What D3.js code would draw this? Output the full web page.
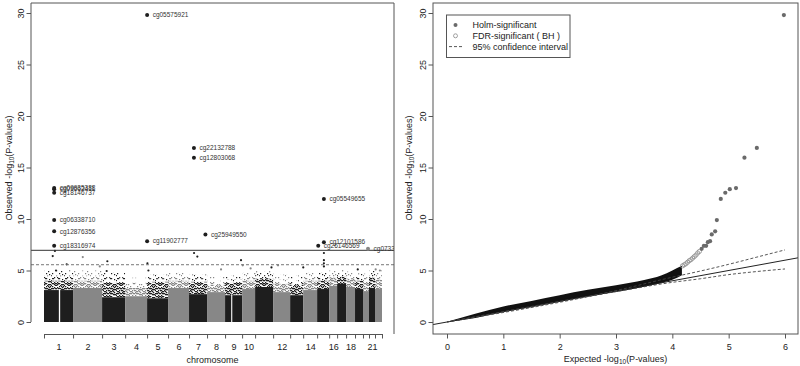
<!DOCTYPE html>
<html>
<head>
 <meta charset="UTF-8">
 <title>EWAS Manhattan and QQ plot</title>
 <script src="https://d3js.org/d3.v7.min.js"></script>
 <style>
  body { margin: 0; background: #fff; }
  text { font-family: "Liberation Sans", Arial, sans-serif; fill: #222; }
 </style>
</head>
<body>
<script type="text/javascript">
// ---- data ----
var chrNames  = ["1","2","3","4","5","6","7","8","9","10","11","12","13","14","15","16","17","18","19","20","21","22"];
var chrLabels = ["1","2","3","4","5","6","7","8","9","10","","12","","14","","16","","18","","","21",""];
// span of probes per chromosome (Mb)
var chrSpan   = [266,266,211,201,192,192,165,165,156,119,165,156,119,128,110,73,82,82,73,55,55,64];
// top of the solid cloud, the dense fringe and the sparse fringe (-log10 p)
var chrCore   = [3.1,3.3,2.4,2.5,2.3,3.3,2.7,2.9,2.6,3.2,3.4,2.9,2.6,3.1,3.2,3.5,3.7,3.4,3.2,3.0,3.3,3.2];
var chrDense  = [4.0,4.0,3.8,3.3,3.9,4.0,3.9,3.6,3.8,4.0,4.2,3.7,3.6,4.0,4.0,4.3,4.4,4.2,4.0,3.9,4.3,4.1];
var chrSparse = [5.0,5.0,4.8,4.3,4.6,4.8,4.6,4.4,4.5,4.8,4.9,4.6,4.5,4.8,4.8,5.0,5.0,4.9,4.7,4.7,5.2,5.0];
// centromere gaps (chromosome, start Mb, end Mb)
var gapChr   = [1, 9];
var gapStart = [136, 56];
var gapEnd   = [148, 66];

// labelled hits
var hitNames = ["cg05575921","cg22132788","cg12803068","cg09935388","cg09662411","cg18146737","cg05549655",
                "cg06338710","cg12876356","cg25949550","cg11902777","cg12101586","cg18316974","cg26146569","cg07339236"];
var hitChr   = [5,7,7,1,1,1,15,1,1,7,5,15,1,15,20];
var hitPos   = [0.4,45,45,93,93,93,62,93,93,150,0.4,62,93,10,46];
var hitLogP  = [29.8,16.9,15.95,13.0,12.9,12.55,11.95,9.9,8.8,8.5,7.85,7.75,7.4,7.4,7.1];

// isolated points above the cloud
var outChr  = [1,1,1,1,2,2,3,3,5,5,7,7,8,9,10,10,11,12,13,15,15,15,15,19,22,22];
var outPos  = [80,100,208,110,89,245,48,42,3,12,46,76,128,146,6,78,150,45,120,62,62,62,62,25,6,45];
var outLogP = [6.4,6.9,5.6,5.0,6.3,5.4,5.9,4.95,5.7,5.0,6.7,6.35,5.1,6.0,5.5,5.2,5.3,5.5,5.3,6.7,6.0,5.7,5.4,5.1,5.1,5.0];

var bonferroni = 6.96;
var fdrLine = 5.56;
var yTicks = [0,5,10,15,20,25,30];

// QQ plot
var qqExp  = [0,0.5,1,1.5,2,2.5,3,3.5,3.8,4,4.17];
var qqLow  = [0,0.4,1.0,1.45,2.0,2.48,2.92,3.42,3.79,4.1,4.55];
var qqHigh = [0.03,0.8,1.5,2.05,2.6,3.12,3.58,4.08,4.51,5.0,5.45];
var fdrExp = [4.18,4.21,4.24,4.27,4.30,4.33,4.36,4.39,4.42,4.45,4.48];
var fdrObs = [5.45,5.55,5.65,5.8,5.95,6.05,6.2,6.35,6.5,6.7,6.85];
var holmExp = [5.98,5.50,5.28,5.13,5.02,4.94,4.86,4.79,4.76,4.70,4.67,4.63,4.60,4.56,4.52];
var ciExp   = [0,3,4,4.5,5,5.5,6];
var ciUpper = [0,3.05,4.35,4.95,5.6,6.3,7.0];
var ciLower = [0,2.95,3.85,4.2,4.6,4.9,5.15];
var qqXTicks = [0,1,2,3,4,5,6];
var legendLabels = ["Holm-significant","FDR-significant ( BH )","95% confidence interval"];

// ---- drawing ----
var width = 800, height = 366;
var black = "#1e1e1e", gray = "#878787";
var svg = d3.select('body').append('svg')
      .attr('width', width)
      .attr('height', height);

// stipple textures for the fringe of the point cloud
var defs = svg.append('defs');
function makePattern(id, color, n, dot) {
  var tile = 13;
  var p = defs.append('pattern').attr('id', id)
      .attr('patternUnits', 'userSpaceOnUse')
      .attr('width', tile).attr('height', tile);
  for (var k = 0; k < n; k++) {
    p.append('rect')
      .attr('x', (k * 5) % tile)
      .attr('y', (k * k * 3 + k + Math.floor(k / tile) * 5) % tile)
      .attr('width', dot).attr('height', dot).attr('fill', color);
  }
}
makePattern('denseB', black, 60, 1.3);
makePattern('denseG', gray, 60, 1.3);
makePattern('midB', black, 20, 1.2);
makePattern('midG', gray, 20, 1.2);
makePattern('topB', black, 8, 1.2);
makePattern('topG', gray, 8, 1.2);

defs.append('clipPath').attr('id', 'clipL').append('rect')
    .attr('x', 31).attr('y', 3).attr('width', 363).attr('height', 331);
defs.append('clipPath').attr('id', 'clipR').append('rect')
    .attr('x', 433).attr('y', 3).attr('width', 365).attr('height', 331);

// ===== Manhattan =====
var chrStart = [];
var acc = 0;
chrSpan.forEach(function (s) { chrStart.push(acc); acc += s; });
var xM = d3.scaleLinear().domain([0, acc]).range([44, 382]);
var yM = d3.scaleLinear().domain([0, 30]).range([322, 13]);
function gx(chr, pos) { return xM(chrStart[chr - 1] + pos); }
function chrColor(chr) { return (chr % 2 === 1) ? black : gray; }

var chrs = chrNames.map(function (n, i) {
  return {i: i, start: chrStart[i], end: chrStart[i] + chrSpan[i],
          core: chrCore[i], dense: chrDense[i], sparse: chrSparse[i],
          mid: (chrDense[i] + chrSparse[i]) / 2};
});

var left = svg.append('g').attr('clip-path', 'url(#clipL)');
function layer(lo, hi, fillB, fillG) {
  left.append('g').selectAll('rect').data(chrs).enter().append('rect')
    .attr('x', function (d) { return xM(d.start); })
    .attr('width', function (d) { return xM(d.end) - xM(d.start); })
    .attr('y', function (d) { return yM(d[hi]); })
    .attr('height', function (d) { return yM(lo === 0 ? 0 : d[lo]) - yM(d[hi]); })
    .attr('fill', function (d) { return d.i % 2 === 0 ? fillB : fillG; });
}
layer('mid', 'sparse', 'url(#topB)', 'url(#topG)');
layer('dense', 'mid', 'url(#midB)', 'url(#midG)');
layer('core', 'dense', 'url(#denseB)', 'url(#denseG)');
layer(0, 'core', black, gray);

left.selectAll('rect.gap').data(gapChr).enter().append('rect')
    .attr('x', function (d, i) { return gx(d, gapStart[i]); })
    .attr('width', function (d, i) { return gx(d, gapEnd[i]) - gx(d, gapStart[i]); })
    .attr('y', function (d) { return yM(chrCore[d - 1]) - 1; })
    .attr('height', function (d) { return yM(0) - yM(chrCore[d - 1]) + 2; })
    .attr('fill', '#fff');

left.selectAll('circle.out').data(outChr).enter().append('circle')
    .attr('cx', function (d, i) { return gx(d, outPos[i]); })
    .attr('cy', function (d, i) { return yM(outLogP[i]); })
    .attr('r', 1.1)
    .attr('fill', function (d) { return chrColor(d); });

left.append('line')
    .attr('x1', 31).attr('x2', 394)
    .attr('y1', yM(bonferroni)).attr('y2', yM(bonferroni))
    .attr('stroke', '#333').attr('stroke-width', 1);
left.append('line')
    .attr('x1', 31).attr('x2', 394)
    .attr('y1', yM(fdrLine)).attr('y2', yM(fdrLine))
    .attr('stroke', '#777').attr('stroke-width', 1).attr('stroke-dasharray', '3,2');

left.selectAll('circle.hit').data(hitNames).enter().append('circle')
    .attr('cx', function (d, i) { return gx(hitChr[i], hitPos[i]); })
    .attr('cy', function (d, i) { return yM(hitLogP[i]); })
    .attr('r', 2)
    .attr('fill', function (d, i) { return chrColor(hitChr[i]); });
left.selectAll('text.hit').data(hitNames).enter().append('text')
    .attr('x', function (d, i) { return gx(hitChr[i], hitPos[i]) + 5.5; })
    .attr('y', function (d, i) { return yM(hitLogP[i]) + 2.3; })
    .style('font-size', '6.5px')
    .style('fill', '#333')
    .text(function (d) { return d; });

// frame (left, top, right)
svg.append('path')
    .attr('d', 'M31,322V3H394V334')
    .attr('fill', 'none').attr('stroke', '#555');

var fontStack = '"Liberation Sans", Arial, sans-serif';

// y axis
var yAxL = svg.append('g').attr('transform', 'translate(31,0)')
    .call(d3.axisLeft(yM).tickValues(yTicks).tickSize(4.5).tickSizeOuter(0));
yAxL.select('.domain').remove();
yAxL.selectAll('line').attr('stroke', '#555');
yAxL.selectAll('text')
    .attr('x', null).attr('dy', null)
    .attr('transform', 'translate(-7.5,0) rotate(-90)')
    .attr('text-anchor', 'middle')
    .style('font-size', '9px').style('fill', '#222').style('font-family', fontStack);

// x axis: boundary ticks + centred labels
var bounds = chrStart.concat([acc]);
var xAxL = svg.append('g').attr('transform', 'translate(0,334)')
    .call(d3.axisBottom(xM).tickValues(bounds).tickSize(4.5).tickSizeOuter(0).tickFormat(''));
xAxL.selectAll('line, path').attr('stroke', '#555');
var mids = chrs.map(function (d) { return (d.start + d.end) / 2; });
var xLabL = svg.append('g').attr('transform', 'translate(0,334)')
    .call(d3.axisBottom(xM).tickValues(mids).tickSize(0).tickPadding(9.5)
      .tickFormat(function (d, i) { return chrLabels[i]; }));
xLabL.select('.domain').remove();
xLabL.selectAll('text').style('font-size', '9px').style('fill', '#222').style('font-family', fontStack);

svg.append('text').attr('x', 212.5).attr('y', 363).attr('text-anchor', 'middle')
    .style('font-size', '9px').text('chromosome');

function logTitle(g, pre) {
  g.append('tspan').text(pre + ' -log');
  g.append('tspan').attr('dy', 2).style('font-size', '6.5px').text('10');
  g.append('tspan').attr('dy', -2).text('(P-values)');
}
logTitle(svg.append('text').attr('text-anchor', 'middle')
    .attr('transform', 'translate(12,168) rotate(-90)').style('font-size', '9px'), 'Observed');

// ===== QQ =====
var xQ = d3.scaleLinear().domain([0, 6]).range([447, 785]);
var yQ = d3.scaleLinear().domain([0, 30]).range([322, 13]);
var right = svg.append('g').attr('clip-path', 'url(#clipR)');

var band = qqExp.map(function (e, i) { return {e: e, lo: qqLow[i], hi: qqHigh[i]}; });
right.append('path').datum(band)
    .attr('d', d3.area().x(function (d) { return xQ(d.e); })
      .y0(function (d) { return yQ(d.lo); }).y1(function (d) { return yQ(d.hi); })
      .curve(d3.curveMonotoneX))
    .attr('fill', '#111');

right.append('line')
    .attr('x1', xQ(-0.3)).attr('y1', yQ(-0.3))
    .attr('x2', xQ(6.3)).attr('y2', yQ(6.3))
    .attr('stroke', '#222').attr('stroke-width', 1);

var ciLine = d3.line().x(function (d) { return xQ(d[0]); }).y(function (d) { return yQ(d[1]); })
    .curve(d3.curveMonotoneX);
[ciUpper, ciLower].forEach(function (arr) {
  right.append('path').datum(ciExp.map(function (e, i) { return [e, arr[i]]; }))
    .attr('d', ciLine).attr('fill', 'none')
    .attr('stroke', '#444').attr('stroke-width', 0.9).attr('stroke-dasharray', '3,2');
});

right.selectAll('circle.fdr').data(fdrExp).enter().append('circle')
    .attr('cx', function (d) { return xQ(d); })
    .attr('cy', function (d, i) { return yQ(fdrObs[i]); })
    .attr('r', 2.1)
    .attr('fill', 'none').attr('stroke', '#8a8a8a').attr('stroke-width', 0.8);
right.selectAll('circle.holm').data(holmExp).enter().append('circle')
    .attr('cx', function (d) { return xQ(d); })
    .attr('cy', function (d, i) { return yQ(hitLogP[i]); })
    .attr('r', 2.1)
    .attr('fill', '#6a6a6a');

svg.append('rect').attr('x', 433).attr('y', 3).attr('width', 365).attr('height', 331)
    .attr('fill', 'none').attr('stroke', '#555');

var yAxR = svg.append('g').attr('transform', 'translate(433,0)')
    .call(d3.axisLeft(yQ).tickValues(yTicks).tickSize(4.5).tickSizeOuter(0));
yAxR.select('.domain').remove();
yAxR.selectAll('line').attr('stroke', '#555');
yAxR.selectAll('text')
    .attr('x', null).attr('dy', null)
    .attr('transform', 'translate(-7.5,0) rotate(-90)')
    .attr('text-anchor', 'middle')
    .style('font-size', '9px').style('fill', '#222').style('font-family', fontStack);

var xAxR = svg.append('g').attr('transform', 'translate(0,334)')
    .call(d3.axisBottom(xQ).tickValues(qqXTicks).tickSize(4.5).tickPadding(5)
      .tickSizeOuter(0).tickFormat(d3.format('d')));
xAxR.select('.domain').remove();
xAxR.selectAll('line').attr('stroke', '#555');
xAxR.selectAll('text').style('font-size', '9px').style('fill', '#222').style('font-family', fontStack);

logTitle(svg.append('text').attr('text-anchor', 'middle')
    .attr('x', 615.5).attr('y', 362).style('font-size', '9px'), 'Expected');
logTitle(svg.append('text').attr('text-anchor', 'middle')
    .attr('transform', 'translate(412,168) rotate(-90)').style('font-size', '9px'), 'Observed');

// legend
var lg = svg.append('g');
lg.append('rect').attr('x', 446.5).attr('y', 15).attr('width', 123.5).attr('height', 42.5)
    .attr('fill', '#fff').attr('stroke', '#555');
var rows = lg.selectAll('g.row').data(legendLabels).enter().append('g')
    .attr('transform', function (d, i) { return 'translate(0,' + (25 + i * 10.8) + ')'; });
rows.append('text').attr('x', 472.5).attr('y', 3.2).style('font-size', '9px')
    .text(function (d) { return d; });
lg.append('circle').attr('cx', 455.5).attr('cy', 25).attr('r', 2).attr('fill', '#6a6a6a');
lg.append('circle').attr('cx', 455.5).attr('cy', 35.8).attr('r', 2)
    .attr('fill', 'none').attr('stroke', '#8a8a8a').attr('stroke-width', 0.8);
lg.append('line').attr('x1', 449).attr('x2', 463).attr('y1', 46.6).attr('y2', 46.6)
    .attr('stroke', '#444').attr('stroke-width', 0.9).attr('stroke-dasharray', '3,2');
</script>
</body>
</html>
